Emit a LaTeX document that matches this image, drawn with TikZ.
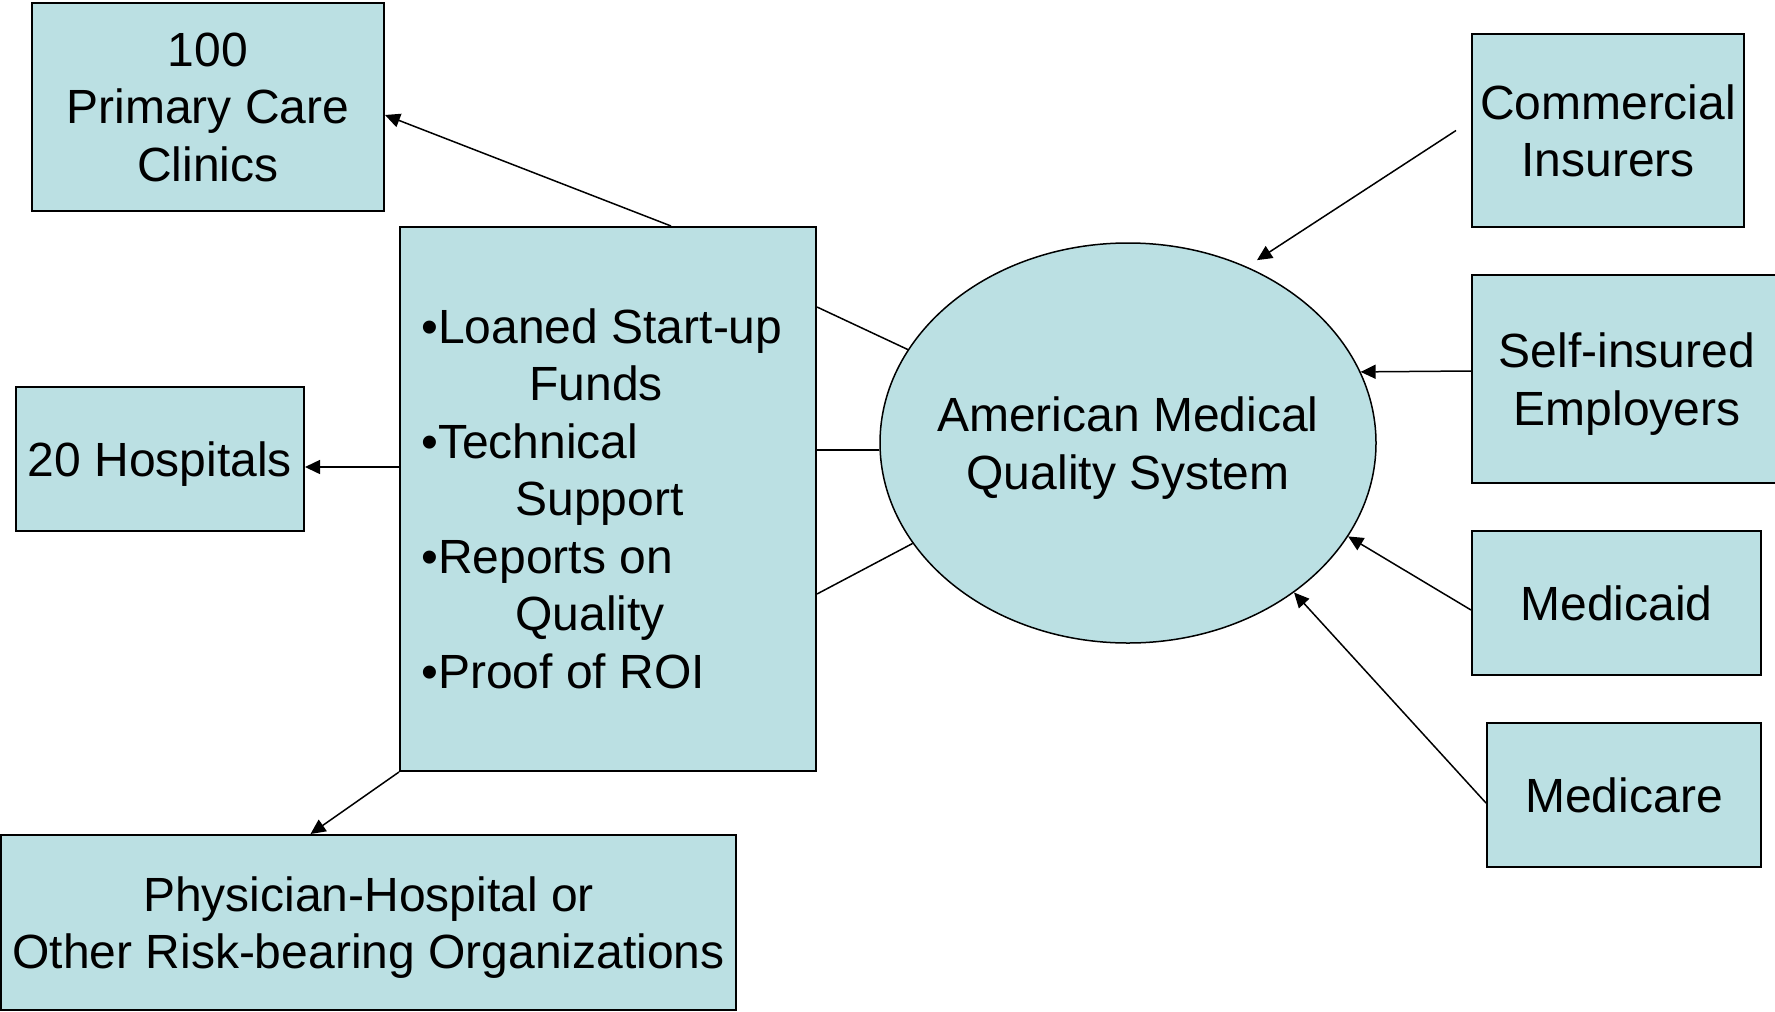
\documentclass[tikz,border=0pt]{standalone}
\usepackage{fontspec}
\setmainfont{Liberation Sans}
\usetikzlibrary{arrows.meta, shapes.geometric}
\definecolor{boxfill}{HTML}{BBE0E3}
\tikzset{
  orgbox/.style={draw, line width=1pt, fill=boxfill, align=center, inner sep=0pt, text depth=0pt},
  link/.style={line width=0.75pt},
  flow/.style={link, -{Triangle[length=7.5pt, width=7pt]}},
}

\begin{document}
\begin{tikzpicture}[x=0.5pt, y=-0.5pt, font=\fontsize{24}{28.75}\selectfont]
\useasboundingbox (0,0) rectangle (1775,1011);

% Central support box
\node[orgbox, minimum width=208pt, minimum height=272pt] (main) at (608,499) {};
\node[anchor=north west, align=left, inner sep=0pt] (items) at (421,308) {%
•Loaned Start-up\\
\hspace*{54pt}Funds\\
•Technical\\
\hspace*{47pt}Support\\
•Reports on\\
\hspace*{47pt}Quality\\
•Proof of ROI};

% Providers (left side)
\node[orgbox, minimum width=176pt, minimum height=104pt] (clinics) at (208,107) {100\\Primary Care\\Clinics};
\node[orgbox, minimum width=144pt, minimum height=72pt] (hosp) at (160,459) {20 Hospitals};
\node[orgbox, minimum width=367.5pt, minimum height=87.5pt] (phys) at (368.5,922.5) {Physician-Hospital or\\Other Risk-bearing Organizations};

% Quality system
\node[ellipse, draw, link, fill=boxfill, minimum width=248pt, minimum height=200pt, inner sep=0pt] (amqs) at (1128,443) {};
\node[align=center, text depth=0pt] (amqstext) at (amqs.center) {American Medical\\Quality System};

% Payers (right side)
\node[orgbox, minimum width=136pt, minimum height=96.5pt] (comm) at (1608,130.5) {Commercial\\Insurers};
\node[orgbox, minimum width=155pt, minimum height=104pt] (selfins) at (1627,379) {Self-insured\\Employers};
\node[orgbox, minimum width=144.5pt, minimum height=72pt] (medicaid) at (1616.5,603) {Medicaid};
\node[orgbox, minimum width=137pt, minimum height=72pt] (medicare) at (1624,795) {Medicare};

% Connectors to providers
\draw[flow] ([xshift=31.5pt]main.north) -- ([yshift=-4pt]clinics.east);
\draw[flow] ([yshift=16pt]main.west) -- ([yshift=-4pt]hosp.east);
\draw[flow] (main.south west) -- ([xshift=-29pt]phys.north);

% Links to the quality system
\draw[link] ([yshift=96pt]main.east) -- (amqs.157.7);
\draw[link] ([yshift=24.5pt]main.east) -- ([yshift=24.5pt]main.east -| amqs.west);
\draw[link] ([yshift=-47.5pt]main.east) -- (amqs.205.8);

% Payer arrows
\coordinate (commtail) at ([xshift=-7.5pt]comm.west);
\draw[flow, shorten >=6pt] (commtail) -- (amqs.56.8);
\draw[flow] ([yshift=4pt]selfins.west) -- (amqs.17.2);
\draw[flow] ([yshift=-3.5pt]medicaid.west) -- (amqs.337.8);
\draw[flow] ([yshift=-4pt]medicare.west) -- (amqs.318);

\end{tikzpicture}
\end{document}
